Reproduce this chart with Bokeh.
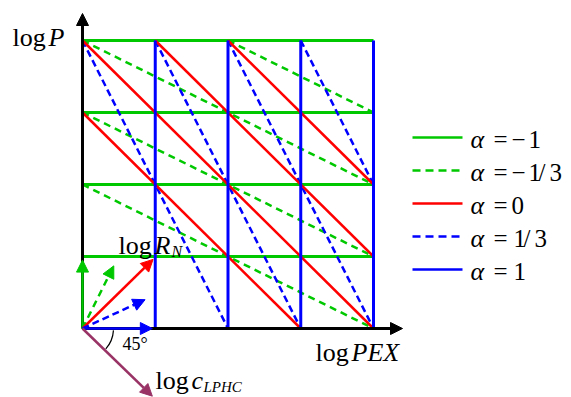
from bokeh.plotting import figure
from bokeh.models import Range1d, Arrow, NormalHead, Label
from bokeh.embed import file_html
from bokeh.resources import INLINE

# ---- chart values -------------------------------------------------------
grid_levels = [1, 2, 3, 4]              # green horizontals (alpha=-1) and blue verticals (alpha=1)
red_k = [3, 4, 5, 6]                    # alpha = 0   : x + y  = k
green_dash_c = [4, 6, 8, 10]            # alpha = -1/3: x + 2y = c
blue_dash_c = [4, 6, 8, 10]             # alpha = 1/3 : 2x + y = c

# legend values, split into glyph pieces so they can be spaced like an equation
alpha_labels = [["\u2212", "1"], ["\u2212", "1", "/", "3"], ["0"], ["1", "/", "3"], ["1"]]
# direction arrows drawn from the origin, one per alpha
arrow_dx = [0.0, 0.43, 0.97, 0.86, 0.96]
arrow_dy = [0.95, 0.87, 0.96, 0.40, 0.0]
lphc_dx, lphc_dy = 0.96, -0.94

# ---- styling ------------------------------------------------------------
GREEN, RED, BLUE, PURPLE = "#00C800", "#FF0000", "#0000FF", "#993366"
FONT = "Liberation Serif"
W, H = 571, 397
X0, Y0 = 82, 328          # origin in canvas pixels
UX, UY = 72.75, 72.0      # pixels per unit
TEXT_LIFT = 8             # baseline correction for canvas text

series_color = [GREEN, GREEN, RED, BLUE, BLUE]
series_dash = ["solid", "7 5", "solid", "7 4", "solid"]

p = figure(width=W, height=H, output_backend="svg", toolbar_location=None,
           x_range=Range1d(-X0 / UX, (W - X0) / UX),
           y_range=Range1d(-(H - Y0) / UY, Y0 / UY),
           x_axis_location=None, y_axis_location=None, min_border=0)
p.grid.visible = False
p.outline_line_color = None


def sx(px):
    return (px - X0) / UX


def sy(py):
    return (Y0 - py) / UY


TOP = max(grid_levels)

# ---- grid of iso-lines --------------------------------------------------
p.segment(x0=[0] * len(grid_levels), y0=grid_levels, x1=[TOP] * len(grid_levels), y1=grid_levels,
          line_color=GREEN, line_width=3)

# x + 2y = c clipped to the square
gx0 = [max(0, c - 2 * TOP) for c in green_dash_c]
gy0 = [min(TOP, c / 2) for c in green_dash_c]
gx1 = [min(TOP, c) for c in green_dash_c]
gy1 = [max(0, (c - TOP) / 2) for c in green_dash_c]
p.segment(x0=gx0, y0=gy0, x1=gx1, y1=gy1, line_color=GREEN, line_width=2.5, line_dash="7 5")

# 2x + y = c clipped to the square
bx0 = [max(0, (c - TOP) / 2) for c in blue_dash_c]
by0 = [min(TOP, c) for c in blue_dash_c]
bx1 = [min(TOP, c / 2) for c in blue_dash_c]
by1 = [max(0, c - 2 * TOP) for c in blue_dash_c]
p.segment(x0=bx0, y0=by0, x1=bx1, y1=by1, line_color=BLUE, line_width=2.5, line_dash="7 4")

# x + y = k clipped to the square
rx0 = [max(0, k - TOP) for k in red_k]
ry0 = [min(TOP, k) for k in red_k]
rx1 = [min(TOP, k) for k in red_k]
ry1 = [max(0, k - TOP) for k in red_k]
p.segment(x0=rx0, y0=ry0, x1=rx1, y1=ry1, line_color=RED, line_width=2.5)

p.segment(x0=grid_levels, y0=[0] * len(grid_levels), x1=grid_levels, y1=[TOP] * len(grid_levels),
          line_color=BLUE, line_width=3)


def arrow(x1, y1, color, dash="solid", width=2.5, size=11):
    p.add_layout(Arrow(x_start=0, y_start=0, x_end=x1, y_end=y1,
                       line_color=color, line_width=width, line_dash=dash,
                       end=NormalHead(size=size, fill_color=color, line_color=color, line_width=1)))


# axes
arrow(sx(402), 0, "black", width=3, size=12)
arrow(0, sy(13), "black", width=3, size=12)

# alpha direction arrows
for dx, dy, c, d in zip(arrow_dx, arrow_dy, series_color, series_dash):
    arrow(dx, dy, c, d, width=2.5, size=12)
arrow(lphc_dx, lphc_dy, PURPLE, width=2.5, size=12)

# 45 degree arc
p.arc(x=[0], y=[0], radius=31, radius_units="screen", start_angle=-0.72, end_angle=-0.06,
      line_color="black", line_width=1.2)


def label(px, py, text, size, italic=False):
    p.add_layout(Label(x=px, y=H - py + TEXT_LIFT, x_units="screen", y_units="screen", text=text,
                       text_font=FONT, text_font_size=f"{size}px",
                       text_font_style="italic" if italic else "normal",
                       text_baseline="alphabetic", text_align="left", text_color="black"))


label(12, 45, "log", 26)
label(48, 45, "P", 26, True)
label(118, 253, "log", 26)
label(154, 253, "R", 26, True)
label(171, 259, "N", 16, True)
label(155, 388, "log", 26)
label(191, 388, "c", 26, True)
label(203, 394, "LPHC", 15, True)
label(315, 360, "log", 26)
label(351, 360, "PEX", 26, True)
label(122, 351, "45°", 18)

# legend
piece_step = {"\u2212": 17, "1": 10, "/": 11, "3": 12, "0": 12}
for i, (pieces, c, d) in enumerate(zip(alpha_labels, series_color, series_dash)):
    ry = 137 + 33 * i
    p.segment(x0=[sx(412)], y0=[sy(ry)], x1=[sx(462)], y1=[sy(ry)],
              line_color=c, line_width=2.5, line_dash="8 5" if d != "solid" else "solid")
    label(470, ry + 10, "\u03b1", 26, True)
    label(493, ry + 10, "=", 25)
    px = 511 if pieces[0] in ("\u2212", "0") else 513
    for ch in pieces:
        label(px, ry + 10, ch, 25)
        px += piece_step[ch]

open("out.html", "w").write(file_html(p, INLINE))
